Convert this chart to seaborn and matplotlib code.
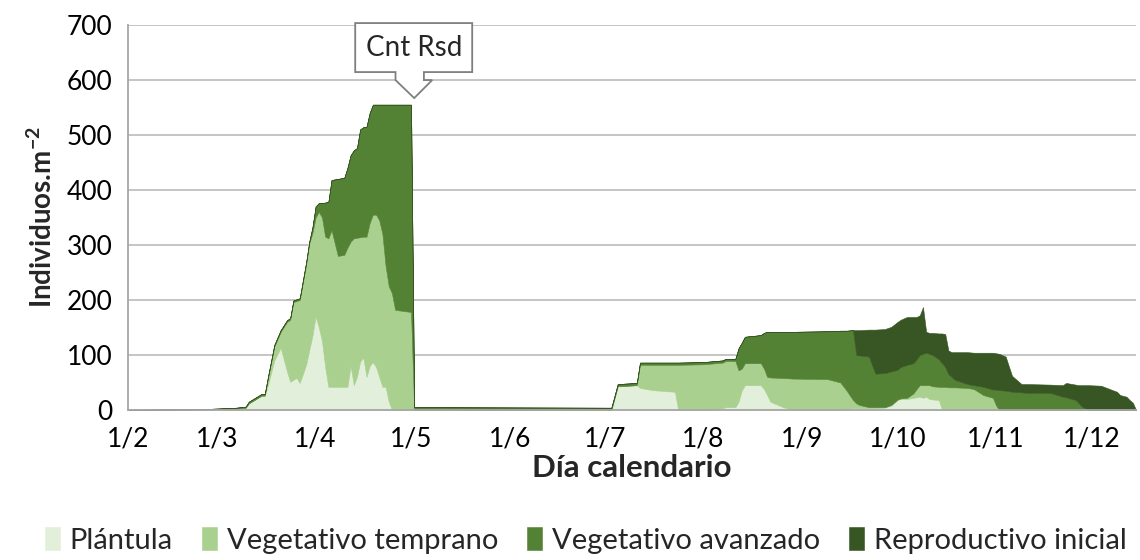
import numpy as np
import pandas as pd
import matplotlib
matplotlib.use("Agg")
import matplotlib.pyplot as plt
import matplotlib.dates as mdates
import matplotlib.ticker as mticker
import matplotlib.transforms as mtransforms
from matplotlib.patches import Polygon
import seaborn as sns

# ── estilo ──────────────────────────────────────────────────────────────────
sns.set_style("white")
plt.rcParams["font.family"] = ["Lato", "DejaVu Sans"]
plt.rcParams["mathtext.fontset"] = "custom"
plt.rcParams["mathtext.rm"] = "Lato"
plt.rcParams["mathtext.bf"] = "Lato:bold"

GRIS = "#a6a6a6"
SERIES = ["Plántula", "Vegetativo temprano", "Vegetativo avanzado", "Reproductivo inicial"]
COLORES = ["#e2efda", "#a9d08e", "#548235", "#375623"]

# ── datos (día juliano y individuos.m-2 por estado) ─────────────────────────
dia_juliano = [32, 45, 58, 66, 69, 70, 72, 74, 75, 76, 78, 80, 82, 83, 84, 85, 86, 88,
               89, 90, 91, 92, 93, 94, 95, 96, 98, 100, 101, 102, 103, 104, 105, 106,
               107, 108, 109, 110, 111, 112, 113, 114, 115, 116, 121, 122,
               184, 186, 192, 193, 197, 204, 205, 213, 219, 220, 223, 224, 225, 226,
               231, 232, 233, 234, 238, 241, 252, 256, 258, 260, 261, 262, 265, 267,
               270, 272, 274, 275, 277, 279, 280, 281, 282, 283, 284, 285, 287, 288,
               289, 290, 291, 292, 296, 298, 301, 304, 305, 306, 308, 310, 313, 315,
               322, 326, 327, 330, 331, 332, 334, 338, 343, 344, 346, 347, 348, 349]

plantula = [0, 0, 1, 2, 4, 12, 19, 26, 26, 45, 90, 113, 70, 51, 55, 58, 49, 82,
            109, 135, 170, 150, 125, 78, 42, 42, 42, 42, 42, 80, 45, 60, 88, 95,
            60, 80, 87, 78, 60, 42, 42, 15, 0, 0, 0, 0,
            0, 43, 45, 40, 36, 33, 0, 0, 3, 5, 5, 15, 35, 45,
            45, 38, 27, 15, 5, 0, 0, 0, 2, 3, 3, 3, 3, 3,
            4, 8, 18, 20, 20, 22, 23, 24, 22, 24, 20, 19, 18, 0,
            0, 0, 0, 0, 0, 0, 0, 0, 0, 0, 0, 0, 0, 0,
            0, 0, 0, 0, 0, 0, 0, 0, 0, 0, 0, 0, 0, 0]

veg_temprano = [0, 0, 0, 0, 0, 0, 0, 0, 0, 12, 25, 29, 90, 113, 141, 140, 151, 182,
                194, 187, 180, 210, 225, 237, 270, 285, 238, 240, 253, 226, 267, 253, 226, 220,
                255, 260, 268, 277, 285, 278, 220, 210, 212, 182, 178, 0,
                0, 0, 0, 42, 46, 49, 82, 83, 83, 84, 84, 57, 40, 40,
                40, 37, 33, 44, 53, 57, 56, 50, 33, 15, 9, 6, 2, 2,
                1, 1, 1, 1, 2, 8, 15, 21, 23, 21, 25, 24, 24, 42,
                42, 41, 41, 41, 40, 38, 27, 22, 8, 0, 0, 0, 0, 0,
                0, 0, 0, 0, 0, 0, 0, 0, 0, 0, 0, 0, 0, 0]

veg_avanzado = [0, 1, 1, 2, 2, 3, 3, 3, 3, 3, 3, 3, 3, 3, 3, 3, 3, 4,
                3, 10, 20, 16, 26, 62, 66, 91, 140, 140, 145, 157, 160, 163, 196, 199,
                200, 200, 200, 200, 210, 235, 293, 330, 343, 373, 377, 5,
                4, 4, 4, 4, 4, 4, 4, 4, 4, 4, 4, 40, 47, 48,
                51, 65, 82, 83, 84, 85, 87, 94, 109, 127, 88, 90, 92, 61,
                62, 61, 54, 57, 60, 55, 54, 55, 57, 59, 57, 57, 50, 43,
                36, 24, 19, 14, 7, 7, 15, 15, 29, 36, 35, 33, 32, 31,
                31, 24, 23, 18, 12, 6, 0, 0, 0, 0, 0, 0, 0, 0]

reproductivo = [0, 0, 0, 0, 0, 0, 0, 0, 0, 0, 0, 0, 0, 0, 0, 0, 0, 0,
                0, 0, 0, 0, 0, 0, 0, 0, 0, 0, 0, 0, 0, 0, 0, 0,
                0, 0, 0, 0, 0, 0, 0, 0, 0, 0, 0, 0,
                0, 0, 0, 0, 0, 0, 0, 0, 0, 0, 0, 0, 0, 0,
                0, 0, 0, 0, 0, 0, 0, 0, 0, 0, 45, 46, 49, 80,
                80, 81, 87, 86, 87, 84, 77, 72, 85, 38, 38, 40, 47, 54,
                60, 43, 45, 50, 58, 59, 62, 67, 66, 66, 62, 29, 15, 16,
                15, 21, 26, 28, 33, 39, 45, 44, 33, 27, 24, 18, 13, 0]

fechas = pd.Timestamp("2017-01-01") + pd.to_timedelta(np.array(dia_juliano) - 1, unit="D")

# ── figura ──────────────────────────────────────────────────────────────────
fig = plt.figure(figsize=(11.4, 5.6), dpi=100)
ax = fig.add_axes([0.1123, 0.268, 0.8842, 0.6875])

polys = ax.stackplot(fechas, plantula, veg_temprano, veg_avanzado, reproductivo,
                     colors=COLORES, labels=SERIES, linewidth=0.4, zorder=2)
for poly, c in zip(polys, COLORES):
    poly.set_edgecolor(c)

ax.set_ylim(0, 700)
ax.yaxis.set_major_locator(mticker.MultipleLocator(100))
ax.set_xlim(pd.Timestamp("2017-02-01"), pd.Timestamp("2017-12-15"))
ax.xaxis.set_major_locator(mdates.MonthLocator())
ax.xaxis.set_major_formatter(
    mticker.FuncFormatter(lambda v, _: f"{mdates.num2date(v).day}/{mdates.num2date(v).month}"))

ax.yaxis.grid(True, color="#c0c0c0", linewidth=1.3)
ax.xaxis.grid(False)
ax.set_axisbelow(True)
sns.despine(ax=ax, top=True, right=True)
for s in ["left", "bottom"]:
    ax.spines[s].set_color(GRIS)
    ax.spines[s].set_linewidth(1.3)
    ax.spines[s].set_zorder(3)
ax.tick_params(axis="both", direction="out", length=7, width=1.1, color=GRIS,
               labelsize=19, labelcolor="black")
ax.tick_params(axis="x", pad=5)
ax.tick_params(axis="y", pad=4)

ax.set_xlabel("Día calendario", fontsize=22.5, fontweight="bold", labelpad=2)
ax.set_ylabel(r"Individuos.m$^{\mathbf{-2}}$", fontsize=20, fontweight="bold", labelpad=7)

# ── llamada "Cnt Rsd" ───────────────────────────────────────────────────────
x_tip = mdates.date2num(pd.Timestamp("2017-05-02"))
trans = fig.dpi_scale_trans + mtransforms.ScaledTranslation(x_tip, 567, ax.transData)
forma = np.array([(-59, 75), (58, 75), (58, 26), (9.7, 26), (9.7, 18), (18, 18),
                  (0, 0), (-18.7, 18), (-18.7, 26), (-59, 26)]) / 100.0
ax.add_patch(Polygon(forma, closed=True, facecolor="white", edgecolor="#7f7f7f",
                     linewidth=1.3, transform=trans, clip_on=False, zorder=6))
ax.text(-0.005, 0.505, "Cnt Rsd", transform=trans, ha="center", va="center",
        fontsize=20, zorder=7, clip_on=False)

# ── leyenda ─────────────────────────────────────────────────────────────────
fig.legend(*ax.get_legend_handles_labels(), loc="center", bbox_to_anchor=(0.514, 0.035),
           ncol=4, frameon=False, fontsize=21, handlelength=0.5, handleheight=0.85,
           handletextpad=0.35, columnspacing=1.0, borderaxespad=0)

fig.savefig("out.png", dpi=100)
